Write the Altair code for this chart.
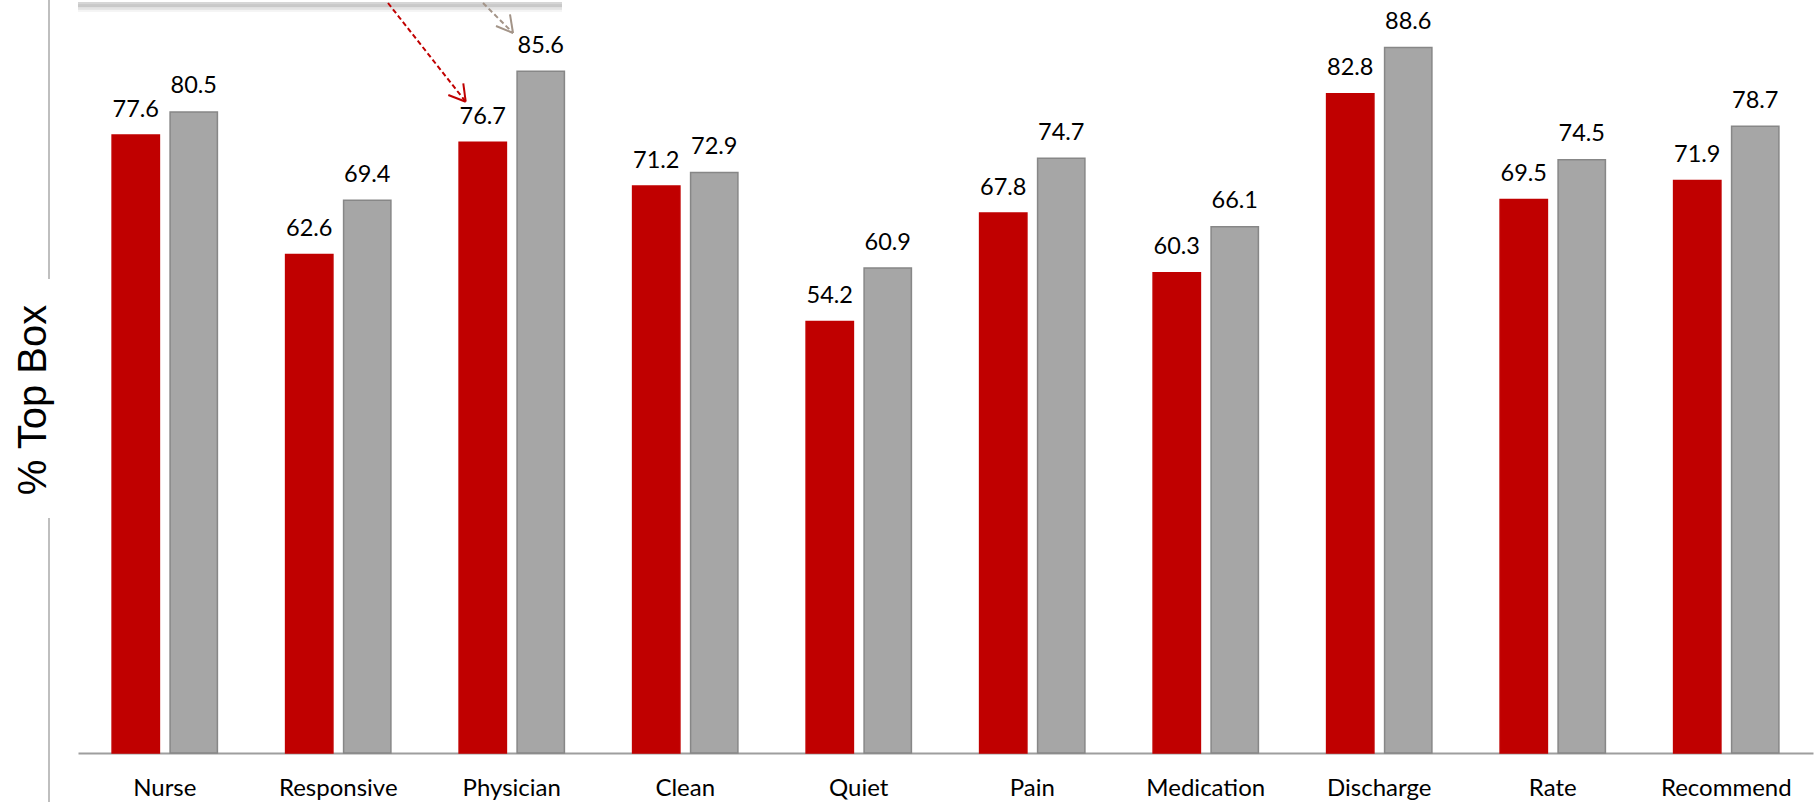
import altair as alt
import pandas as pd

categories = ["Nurse", "Responsive", "Physician", "Clean", "Quiet", "Pain",
              "Medication", "Discharge", "Rate", "Recommend"]
series_names = ["Hospital", "Benchmark"]
hospital = [77.6, 62.6, 76.7, 71.2, 54.2, 67.8, 60.3, 82.8, 69.5, 71.9]
benchmark = [80.5, 69.4, 85.6, 72.9, 60.9, 74.7, 66.1, 88.6, 74.5, 78.7]
y_title = "% Top Box"

rows = []
for c, h, b in zip(categories, hospital, benchmark):
    rows.append({"category": c, "series": series_names[0], "value": h})
    rows.append({"category": c, "series": series_names[1], "value": b})
df = pd.DataFrame(rows)

FONT = "Lato"
W, H = 1735, 753
Y_MAX = 94.56

x_enc = alt.X(
    "category:N", sort=categories,
    scale=alt.Scale(paddingInner=0.393, paddingOuter=0.1965),
    axis=alt.Axis(title=None, labelAngle=0, labelFont=FONT, labelFontSize=24,
                  labelColor="#000000", labelBaseline="alphabetic", labelPadding=42,
                  ticks=False, tickSize=0, domainColor="#9E9E9E", domainWidth=2,
                  grid=False),
)
xo_enc = alt.XOffset("series:N", sort=series_names,
                     scale=alt.Scale(paddingInner=0.184, paddingOuter=0))
y_enc = alt.Y("value:Q", scale=alt.Scale(domain=[0, Y_MAX], nice=False, zero=True),
              axis=None)

base = alt.Chart(df)

bars = base.mark_bar(strokeWidth=1.5).encode(
    x=x_enc, xOffset=xo_enc, y=y_enc,
    color=alt.Color("series:N", sort=series_names,
                    scale=alt.Scale(domain=series_names, range=["#C00000", "#A6A6A6"]),
                    legend=None),
    stroke=alt.Stroke("series:N", sort=series_names,
                      scale=alt.Scale(domain=series_names, range=["#C00000", "#878787"]),
                      legend=None),
)

labels = base.mark_text(font=FONT, fontSize=23.5, color="#000000",
                        baseline="alphabetic", align="center", dy=-18.5).encode(
    x=x_enc, xOffset=xo_enc, y=y_enc,
    text=alt.Text("value:Q", format=".1f"),
)

# y-axis title and its broken vertical line (left of the plot area)
ann = alt.Chart(pd.DataFrame({"t": [y_title]}))
title_txt = ann.mark_text(font="Liberation Sans", fontSize=40, color="#000000",
                          angle=270, align="center", baseline="alphabetic").encode(
    x=alt.value(-32), y=alt.value(400), text="t:N")
vline1 = ann.mark_rule(color="#BFBFBF", strokeWidth=2).encode(
    x=alt.value(-29), y=alt.value(-5), y2=alt.value(279))
vline2 = ann.mark_rule(color="#BFBFBF", strokeWidth=2).encode(
    x=alt.value(-29), y=alt.value(518), y2=alt.value(810))


def seg(x1, y1, x2, y2, **kw):
    return ann.mark_rule(**kw).encode(
        x=alt.value(x1), y=alt.value(y1), x2=alt.value(x2), y2=alt.value(y2))


# bottom edge of the cut-off callout box with a soft shadow
# (drawn only over the plot area, starting at x = 0)
box_layers = []
for off, col in [(1.5, "#B8B8B8"), (3.0, "#C8C8C8"), (4.5, "#D8D8D8"),
                 (6.0, "#E6E6E6"), (7.5, "#F2F2F2")]:
    box_layers.append(seg(0, 3.5 + off, 484, 3.5 + off, color=col, strokeWidth=1.6))
box_layers.append(seg(0, 3, 484, 3, color="#C8C8C8", strokeWidth=1.5))

# dashed arrows coming down from the callout
red_c, grey_c = "#C00000", "#A39488"
arrow_red = seg(310, 3, 387.7, 101.7, color=red_c, strokeWidth=2, strokeDash=[5, 3])
head_red1 = seg(387.7, 101.7, 370.3, 95, color=red_c, strokeWidth=2)
head_red2 = seg(387.7, 101.7, 385.3, 83.3, color=red_c, strokeWidth=2)
arrow_grey = seg(405, 3, 435, 33, color=grey_c, strokeWidth=2, strokeDash=[5, 3])
head_grey1 = seg(435, 33, 418, 26, color=grey_c, strokeWidth=2)
head_grey2 = seg(435, 33, 432, 14.3, color=grey_c, strokeWidth=2)

chart = alt.layer(
    bars, labels, title_txt, vline1, vline2, *box_layers,
    arrow_red, head_red1, head_red2, arrow_grey, head_grey1, head_grey2,
).properties(
    width=W, height=H,
    autosize=alt.AutoSizeParams(type="none"),
    padding={"left": 78, "top": 0, "right": 1, "bottom": 49},
    background="#FFFFFF",
).configure_view(stroke=None)

chart.save("out.html", embed_options={"renderer": "svg", "actions": False})
